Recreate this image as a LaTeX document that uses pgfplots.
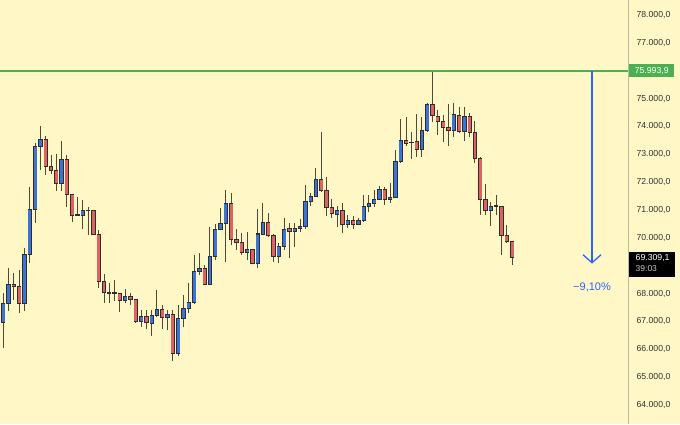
\documentclass[border=0pt]{standalone}
\usepackage{fontspec}
\setmainfont{Liberation Sans}
\usepackage{pgfplots}
\usepackage{pgfplotstable}
\pgfplotsset{compat=1.18}
\usetikzlibrary{arrows.meta}
\definecolor{bg}{HTML}{FFF8C6}
\definecolor{bluec}{HTML}{3B74D6}
\definecolor{redc}{HTML}{DE6262}
\definecolor{borderc}{HTML}{2E2E2E}
\definecolor{wickc}{HTML}{4B4B3B}
\definecolor{greenc}{HTML}{4CAF50}
\definecolor{arrowc}{HTML}{2962FF}
\definecolor{labc}{HTML}{333333}
\definecolor{axisc}{HTML}{BEB9A0}

\pgfplotstableread{
i o h l c
1 66956 68022 66048 67652
2 67652 68909 67387 68345
5 67652 69627 67387 69411
6 69411 71837 69088 71037
7 71037 73395 70524 73298
8 73298 74016 72437 73538
12 71959 73488 71694 72821
16 70811 71360 70308 70976
24 67771 68155 67652 67915
27 66992 67412 66813 67197
29 66935 67412 66479 67222
30 67222 68130 67172 67437
32 67150 67412 66694 67258
34 65858 67591 65761 67114
35 67114 67950 66813 67473
36 67473 68392 67294 67674
37 67674 69386 67640 68787
38 68787 69447 68668 68909
40 68334 70402 68300 69325
41 69325 70499 69207 70308
42 70308 71062 70283 70524
43 70524 71719 69146 71242
47 69469 70222 69207 69566
49 69088 71026 68909 70140
50 70140 71242 70104 70545
53 69350 69806 69110 69709
54 69709 70703 69566 70319
56 70222 70524 69684 70344
57 70344 70667 70222 70427
58 70427 71898 70308 71299
59 71324 71622 71145 71504
60 71504 72498 71478 72114
64 70847 71145 70402 71001
66 70499 70822 70344 70642
68 70499 70703 70463 70617
69 70617 71539 70581 71134
70 71145 71539 70940 71242
71 71242 71719 71119 71385
72 71385 71862 71360 71744
74 71385 71959 71242 71457
75 71457 73154 71421 72735
76 72735 74256 72700 73488
80 73180 74350 72914 73872
81 73872 74831 73811 74805
86 73847 74831 73632 74411
88 73811 74709 73488 74350
93 70976 71299 70427 71145
}\bull

\pgfplotstableread{
i o h l c
3 68345 68751 67771 68248
4 68248 68848 67315 67652
9 73538 73657 72257 72580
10 72580 72975 72282 72412
11 72412 73011 71694 71959
13 72821 72975 71098 71550
14 71550 71575 70581 70822
15 70840 71457 70804 70811
17 71001 71109 70104 70976
18 70976 71001 70104 70140
19 70140 70283 68202 68428
20 68428 68693 67674 68033
21 68040 68370 67674 68030
22 68033 68489 67746 68022
23 68011 68022 67351 67771
25 67915 68033 67591 67796
26 67796 67807 66956 66992
28 67197 67412 66719 66956
31 67437 67591 66719 67150
33 67258 67412 65582 65869
39 68909 69027 68309 68334
44 71242 71622 69745 69950
45 69950 70308 69566 69828
46 69828 70165 69386 69469
48 69566 69600 69063 69088
51 70545 70883 70043 70104
52 70104 70130 69146 69350
55 70344 70545 69268 70222
61 72114 73811 71658 71719
62 71719 72175 70786 71098
63 71098 71385 70703 70858
65 71001 71242 70165 70499
67 70642 70786 70308 70499
73 71744 71827 71180 71385
77 73488 74350 73298 73395
78 73442 73811 72821 73416
79 73452 74446 72914 73180
82 74805 75994 74170 74375
83 74375 74590 73693 74170
84 74170 74411 73452 73969
85 73969 74805 73298 73847
87 74411 74709 73775 73811
89 74350 74472 73610 73775
90 73775 74206 72699 72857
91 72857 72892 70822 71385
92 71385 71934 70822 70976
94 71145 71539 70822 71134
95 71145 71160 69386 70104
96 70104 70463 69828 69863
97 69863 69880 69027 69309.1
}\bear

\pgfplotsset{
  wick/.style={draw=none, mark=none, forget plot,
    error bars/.cd, y dir=both, y explicit, error mark=none,
    error bar style={draw=wickc, line width=1pt, solid}},
  bodyout/.style={draw=none, mark=none, forget plot,
    error bars/.cd, y dir=both, y explicit, error mark=none,
    error bar style={draw=borderc, line width=4.3pt, solid}},
  bodyin/.style={draw=none, mark=none, forget plot,
    error bars/.cd, y dir=both, y explicit, error mark=none,
    error bar style={draw=#1, line width=2.9pt, solid}},
}

\begin{document}
\begin{tikzpicture}
\fill[bg] (0,0) rectangle (680pt,424pt);
\useasboundingbox (0,0) rectangle (680pt,424pt);
\begin{axis}[
  at={(0,0)}, anchor=south west,
  scale only axis, width=628pt, height=424pt,
  xmin=0.377, xmax=118.87, ymin=63321, ymax=78538,
  axis x line=none, axis y line*=right,
  axis line style={draw=axisc, -, line width=0.8pt},
  ytick={64000,65000,66000,67000,68000,70000,71000,72000,73000,74000,75000,77000,78000},
  scaled y ticks=false,
  major tick length=0pt,
  yticklabel style={anchor=west, xshift=5pt, text=labc,
    font=\fontsize{8.7}{10}\selectfont,
    /pgf/number format/.cd, fixed, fixed zerofill, precision=1, use comma, 1000 sep={.}, assume math mode=true},
  clip=false,
]
% wicks
\addplot[wick] table[x=i, y expr={(\thisrow{h}+\thisrow{l})/2}, y error expr={(\thisrow{h}-\thisrow{l})/2}] {\bull};
\addplot[wick] table[x=i, y expr={(\thisrow{h}+\thisrow{l})/2}, y error expr={(\thisrow{h}-\thisrow{l})/2}] {\bear};
% bodies outline
\addplot[bodyout] table[x=i, y expr={(\thisrow{o}+\thisrow{c})/2}, y error expr={abs(\thisrow{c}-\thisrow{o})/2+18}] {\bull};
\addplot[bodyout] table[x=i, y expr={(\thisrow{o}+\thisrow{c})/2}, y error expr={abs(\thisrow{c}-\thisrow{o})/2+18}] {\bear};
% bodies fill
\addplot[bodyin=bluec] table[x=i, y expr={(\thisrow{o}+\thisrow{c})/2}, y error expr={max(abs(\thisrow{c}-\thisrow{o})/2-18,0)}] {\bull};
\addplot[bodyin=redc] table[x=i, y expr={(\thisrow{o}+\thisrow{c})/2}, y error expr={max(abs(\thisrow{c}-\thisrow{o})/2-18,0)}] {\bear};
% resistance level
\addplot[greenc, line width=1.3pt, forget plot] coordinates {(0.377,75993.9) (118.87,75993.9)};
% drop arrow
\addplot[arrowc, line width=1.3pt, forget plot, -{Straight Barb[length=8pt,width=18pt,line width=1.3pt]}] coordinates {(112.08,75993.9) (112.08,69078)};
\node[text=arrowc, font=\fontsize{11}{13}\selectfont] at (axis cs:112.08,68230) {−9,10\%};
% badges
\node[fill=greenc, text=white, anchor=west, minimum width=45pt, minimum height=13pt, inner sep=1pt, font=\fontsize{8.7}{10}\selectfont, xshift=1pt] at (axis cs:118.87,75993.9) {75.993,9};
\fill[black] ([xshift=1pt,yshift=5.5pt]axis cs:118.87,69309.1) rectangle ([xshift=47pt,yshift=-19.5pt]axis cs:118.87,69309.1);
\node[text=white, anchor=west, inner sep=0pt, font=\fontsize{8.7}{10}\selectfont, xshift=7.5pt, yshift=-1.2pt] at (axis cs:118.87,69309.1) {69.309,1};
\node[text={rgb,255:red,200;green,200;blue,200}, anchor=west, inner sep=0pt, font=\fontsize{8.5}{10}\selectfont, xshift=7.5pt, yshift=-11.6pt] at (axis cs:118.87,69309.1) {39:03};
\end{axis}
\end{tikzpicture}
\end{document}
